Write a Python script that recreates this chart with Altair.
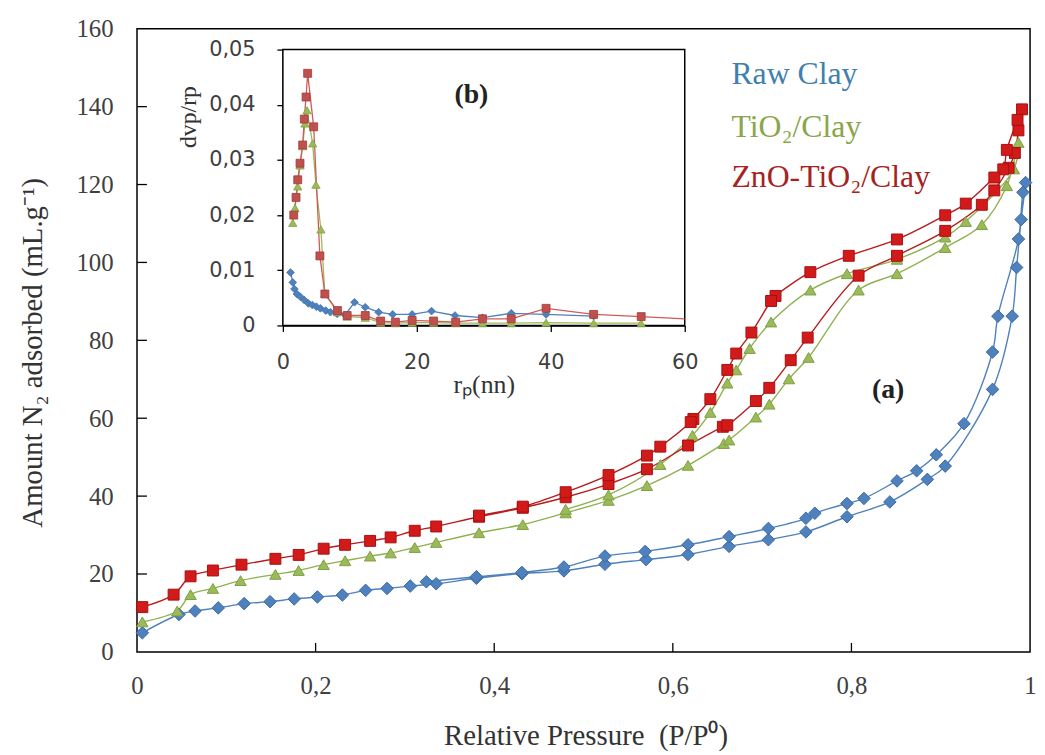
import altair as alt
import pandas as pd

# ---------------- Main panel (a): N2 isotherms ----------------
RAW_ADS_P = [0.006, 0.047, 0.065, 0.091, 0.120, 0.149, 0.176, 0.202, 0.230, 0.256, 0.280, 0.306, 0.335,
             0.380, 0.431, 0.478, 0.524, 0.570, 0.617, 0.663, 0.707, 0.749, 0.795, 0.843, 0.885, 0.905,
             0.958, 0.980, 0.985, 0.990, 0.995]
RAW_ADS_V = [4.9, 9.6, 10.5, 11.3, 12.4, 12.9, 13.6, 14.1, 14.6, 15.8, 16.3, 16.9, 17.5,
             18.9, 20.1, 20.8, 22.5, 23.7, 25.0, 27.1, 28.8, 30.8, 34.7, 38.5, 44.3, 47.7,
             67.4, 86.2, 98.7, 111.0, 120.5]
RAW_DES_P = [0.992, 0.987, 0.964, 0.958, 0.926, 0.895, 0.873, 0.851, 0.814, 0.795, 0.759, 0.749,
             0.707, 0.663, 0.617, 0.569, 0.524, 0.478, 0.431, 0.380, 0.324]
RAW_DES_V = [118.0, 106.0, 86.2, 77.0, 58.6, 50.6, 46.5, 43.9, 39.4, 38.1, 35.6, 34.3,
             31.7, 29.6, 27.5, 25.8, 24.6, 21.8, 20.4, 19.3, 18.0]

TIO_ADS_P = [0.006, 0.045, 0.060, 0.085, 0.116, 0.155, 0.181, 0.209, 0.233, 0.261, 0.284, 0.311, 0.335,
             0.383, 0.432, 0.480, 0.528, 0.571, 0.617, 0.657, 0.663, 0.693, 0.708, 0.730, 0.752,
             0.808, 0.851, 0.905, 0.946, 0.974, 0.987]
TIO_ADS_V = [7.7, 10.5, 14.7, 16.3, 18.3, 19.9, 20.9, 22.4, 23.4, 24.6, 25.4, 26.8, 28.1,
             30.6, 32.7, 35.7, 38.9, 42.7, 47.9, 53.5, 54.4, 60.3, 63.6, 70.1, 75.6,
             92.9, 97.1, 103.8, 109.7, 119.7, 130.8]
TIO_DES_P = [0.982, 0.928, 0.905, 0.851, 0.795, 0.754, 0.710, 0.686, 0.671, 0.661, 0.642, 0.622,
             0.586, 0.528, 0.480]
TIO_DES_V = [124.0, 110.5, 106.5, 100.8, 97.1, 92.9, 84.7, 77.9, 72.4, 69.0, 61.5, 55.6,
             48.1, 40.3, 36.6]

ZNO_ADS_P = [0.006, 0.041, 0.060, 0.085, 0.117, 0.155, 0.181, 0.209, 0.233, 0.261, 0.284, 0.311, 0.335,
             0.383, 0.432, 0.480, 0.528, 0.571, 0.617, 0.656, 0.661, 0.693, 0.708, 0.732, 0.751,
             0.808, 0.851, 0.905, 0.946, 0.960, 0.976, 0.983, 0.987, 0.991]
ZNO_ADS_V = [11.5, 14.7, 19.4, 20.9, 22.4, 23.9, 24.9, 26.5, 27.5, 28.5, 29.4, 31.1, 32.2,
             34.7, 37.0, 39.7, 43.1, 46.9, 53.0, 57.8, 58.2, 64.4, 67.8, 74.9, 80.7,
             96.6, 101.7, 108.1, 114.8, 118.5, 124.3, 128.1, 133.9, 139.3]
ZNO_DES_P = [0.986, 0.974, 0.970, 0.960, 0.928, 0.905, 0.851, 0.797, 0.754, 0.715, 0.710, 0.688,
             0.671, 0.661, 0.642, 0.623, 0.620, 0.586, 0.571, 0.528, 0.480, 0.432, 0.383]
ZNO_DES_V = [136.6, 128.9, 123.9, 121.8, 115.1, 112.1, 105.9, 101.7, 97.5, 91.4, 90.1, 82.0,
             76.6, 72.4, 64.9, 59.8, 59.0, 52.7, 50.4, 45.4, 41.0, 37.3, 35.0]

# ---------------- Inset panel (b): pore size distribution ----------------
RAW_RP = [1.14, 1.48, 1.73, 2.10, 2.60, 3.20, 3.80, 4.40, 5.00, 5.60, 6.40, 7.10, 8.10, 9.30,
          10.7, 12.3, 14.3, 16.4, 19.3, 22.2, 25.7, 29.8, 34.1, 39.3, 46.4]
RAW_DV = [0.0096, 0.0078, 0.0066, 0.0057, 0.0052, 0.0046, 0.0040, 0.0037, 0.0034, 0.0031, 0.0027,
          0.0024, 0.0021, 0.0019, 0.0042, 0.0033, 0.0024, 0.0020, 0.0020, 0.0026, 0.0018, 0.0014,
          0.0022, 0.0020, 0.0017]
TIO_RP = [1.48, 1.82, 2.22, 2.56, 2.96, 3.30, 3.60, 4.44, 4.94, 5.68, 6.27, 8.15, 9.6, 12.3,
          14.6, 16.8, 19.3, 22.5, 25.8, 29.8, 34.1, 39.3, 46.4, 53.5]
TIO_DV = [0.0186, 0.0213, 0.0252, 0.0290, 0.0325, 0.0366, 0.0390, 0.0330, 0.0255, 0.0174, 0.0058,
          0.0024, 0.0016, 0.0014, 0.0005, 0.0004, 0.0005, 0.0005, 0.0004, 0.0004, 0.0004, 0.0005,
          0.0004, 0.0004]
ZNO_RP = [1.63, 1.97, 2.22, 2.56, 2.96, 3.20, 3.46, 3.70, 4.60, 5.53, 6.27, 8.15, 9.6, 12.3,
          14.6, 16.8, 19.3, 22.5, 25.8, 29.8, 34.1, 39.3, 46.4, 53.5, 60.0]
ZNO_DV = [0.0200, 0.0232, 0.0264, 0.0294, 0.0327, 0.0374, 0.0414, 0.0457, 0.0360, 0.0126, 0.0057,
          0.0027, 0.0018, 0.0018, 0.0008, 0.0006, 0.0009, 0.0008, 0.0006, 0.0012, 0.0012, 0.0031,
          0.0020, 0.0016, 0.0012]

LABELS = ["Raw Clay", "TiO\u2082/Clay", "ZnO-TiO\u2082/Clay"]
MAIN_X_TICKS = [0, 0.2, 0.4, 0.6, 0.8, 1]
MAIN_Y_TICKS = [0, 20, 40, 60, 80, 100, 120, 140, 160]
INSET_X_TICKS = [0, 20, 40, 60]
INSET_Y_TICKS = [0, 0.01, 0.02, 0.03, 0.04, 0.05]

W, H = 900, 628
SERIF = "Liberation Serif"
SANS = "DejaVu Sans"

XS = alt.Scale(domain=[0, 1], nice=False, zero=False)
YS = alt.Scale(domain=[0, 160], nice=False)
IXS = alt.Scale(domain=[0, 60], range=[147, 552], nice=False, zero=False)
IYS = alt.Scale(domain=[0, 0.05], range=[299, 21], nice=False)

xaxis = alt.Axis(values=MAIN_X_TICKS, format=".1~f", labelExpr="replace(datum.label, '.', ',')",
                 labelFont=SERIF, labelFontSize=25, labelColor="#404040", labelPadding=22,
                 labelFlush=False, labelOverlap=False, ticks=False, tickSize=0, domain=False, grid=False,
                 orient="bottom",
                 title="Relative Pressure \u00a0(P/P\u2070)", titleFont=SERIF, titleFontSize=29,
                 titleFontWeight="normal", titleColor="#333333", titleX=452, titleY=84,
                 titleBaseline="middle", titleAlign="center")
yaxis = alt.Axis(values=MAIN_Y_TICKS, labelFont=SERIF, labelFontSize=25, labelColor="#404040",
                 labelPadding=24, labelOverlap=False, ticks=False, tickSize=0, domain=False, grid=False,
                 orient="left",
                 title="Amount N\u2082 adsorbed (mL.g\u207b\u00b9)", titleFont=SERIF, titleFontSize=29,
                 titleFontWeight="normal", titleColor="#333333", titleX=-105, titleY=326,
                 titleAngle=270, titleBaseline="middle", titleAlign="center")

ixaxis = alt.Axis(values=INSET_X_TICKS, labelFont=SANS, labelFontSize=21, labelColor="#404040",
                  labelPadding=20, labelFlush=False, tickSize=6, tickColor="black", tickWidth=1.3,
                  domainColor="black", domainWidth=1.5, grid=False, orient="bottom", offset=-(H - 299),
                  title="r\u209a(nn)", titleFont=SERIF, titleFontSize=26, titleFontWeight="normal",
                  titleColor="#333333", titleX=349.5, titleY=60, titleBaseline="middle", titleAlign="center")
iyaxis = alt.Axis(values=INSET_Y_TICKS, format=".2~f", labelExpr="replace(datum.label, '.', ',')",
                  labelFont=SANS, labelFontSize=21, labelColor="#404040", labelPadding=22,
                  tickSize=6, tickColor="black", tickWidth=1.3, domainColor="black", domainWidth=1.5,
                  grid=False, orient="left", offset=-147, title=None)


def iso_df(ap, av, dp, dv):
    p = list(ap) + list(dp)
    v = list(av) + list(dv)
    return pd.DataFrame({"p": p, "v": v, "i": list(range(len(p)))})


main_series = [
    (iso_df(RAW_ADS_P, RAW_ADS_V, RAW_DES_P, RAW_DES_V), "diamond", "#4f81bd", "#3a6aa5", "#4f81bd", 160),
    (iso_df(TIO_ADS_P, TIO_ADS_V, TIO_DES_P, TIO_DES_V), "triangle-up", "#9bbb59", "#7f9f45", "#8fb150", 130),
    (iso_df(ZNO_ADS_P, ZNO_ADS_V, ZNO_DES_P, ZNO_DES_V), "square", "#d21a1a", "#a81010", "#b81c1c", 121),
]

main_layers = []
for df, shape, fill, stroke, lc, size in main_series:
    main_layers.append(
        alt.Chart(df).mark_line(color=lc, strokeWidth=1.4, interpolate="catmull-rom").encode(
            x=alt.X("p:Q", scale=XS, axis=xaxis), y=alt.Y("v:Q", scale=YS, axis=yaxis), order="i:Q"))
for df, shape, fill, stroke, lc, size in main_series:
    main_layers.append(
        alt.Chart(df).mark_point(shape=shape, filled=True, fill=fill, stroke=stroke, strokeWidth=1,
                                 size=size, opacity=1).encode(
            x=alt.X("p:Q", scale=XS, axis=xaxis), y=alt.Y("v:Q", scale=YS, axis=yaxis)))

# inward tick marks of the main frame
main_layers.append(
    alt.Chart(pd.DataFrame({"p": MAIN_X_TICKS[1:-1]})).mark_rule(color="black", strokeWidth=1.3).encode(
        x=alt.X("p:Q", scale=XS, axis=xaxis), y=alt.value(H), y2=alt.value(H - 9)))
main_layers.append(
    alt.Chart(pd.DataFrame({"v": MAIN_Y_TICKS[1:-1]})).mark_rule(color="black", strokeWidth=1.3).encode(
        y=alt.Y("v:Q", scale=YS, axis=yaxis), x=alt.value(0), x2=alt.value(10)))

one = pd.DataFrame({"a": [0]})
legend_colors = ["#3f80ad", "#8aa64a", "#a62222"]
legend_y = [46, 99, 149]
for lab, col, yy in zip(LABELS, legend_colors, legend_y):
    main_layers.append(alt.Chart(one).mark_text(text=lab, font=SERIF, fontSize=32, color=col,
                                                align="left", baseline="middle").encode(
        x=alt.value(599), y=alt.value(yy)))
main_layers.append(alt.Chart(one).mark_text(text="(a)", font=SERIF, fontSize=28, fontWeight="bold",
                                            color="#222222", align="center", baseline="middle").encode(
    x=alt.value(757), y=alt.value(364)))

main = alt.layer(*main_layers)

# ---------------- inset ----------------
inset_series = [
    (pd.DataFrame({"r": RAW_RP, "d": RAW_DV}), "diamond", "#4f81bd", "#3f71ad", "#4f81bd", 60),
    (pd.DataFrame({"r": TIO_RP, "d": TIO_DV}), "triangle-up", "#9bbb59", "#849f45", "#9bbb59", 70),
    (pd.DataFrame({"r": ZNO_RP, "d": ZNO_DV}), "square", "#c0504d", "#a03c3a", "#d05a58", 64),
]

box = pd.DataFrame({"r0": [INSET_X_TICKS[0]], "r1": [INSET_X_TICKS[-1]],
                    "d0": [INSET_Y_TICKS[0]], "d1": [INSET_Y_TICKS[-1]]})
inset_layers = [
    alt.Chart(box).mark_rect(fill="white", stroke="black", strokeWidth=1.5).encode(
        x=alt.X("r0:Q", scale=IXS, axis=ixaxis), x2="r1:Q",
        y=alt.Y("d0:Q", scale=IYS, axis=iyaxis), y2="d1:Q")
]
for df, shape, fill, stroke, lc, size in inset_series:
    inset_layers.append(
        alt.Chart(df).mark_line(color=lc, strokeWidth=1.3).encode(
            x=alt.X("r:Q", scale=IXS, axis=ixaxis), y=alt.Y("d:Q", scale=IYS, axis=iyaxis)))
for df, shape, fill, stroke, lc, size in inset_series:
    inset_layers.append(
        alt.Chart(df).transform_filter("datum.r < 59").mark_point(
            shape=shape, filled=True, fill=fill, stroke=stroke, strokeWidth=0.8, size=size, opacity=1).encode(
            x=alt.X("r:Q", scale=IXS, axis=ixaxis), y=alt.Y("d:Q", scale=IYS, axis=iyaxis)))
inset_layers.append(alt.Chart(one).mark_text(text="(b)", font=SERIF, fontSize=28, fontWeight="bold",
                                             color="#222222", align="center", baseline="middle").encode(
    x=alt.value(337), y=alt.value(67)))
inset_layers.append(alt.Chart(one).mark_text(text="dvp/rp", font=SERIF, fontSize=24, angle=270,
                                             color="#333333", align="center", baseline="middle").encode(
    x=alt.value(52), y=alt.value(89)))

inset = alt.layer(*inset_layers)

chart = alt.layer(main, inset).resolve_scale(x="independent", y="independent").properties(
    width=W, height=H,
    padding={"left": 130, "top": 18, "right": 7, "bottom": 101},
    autosize=alt.AutoSizeParams(type="none"),
    background="white",
).configure_view(stroke="black", strokeWidth=1.5)

chart.save("out.html", embed_options={"renderer": "svg", "actions": False})
